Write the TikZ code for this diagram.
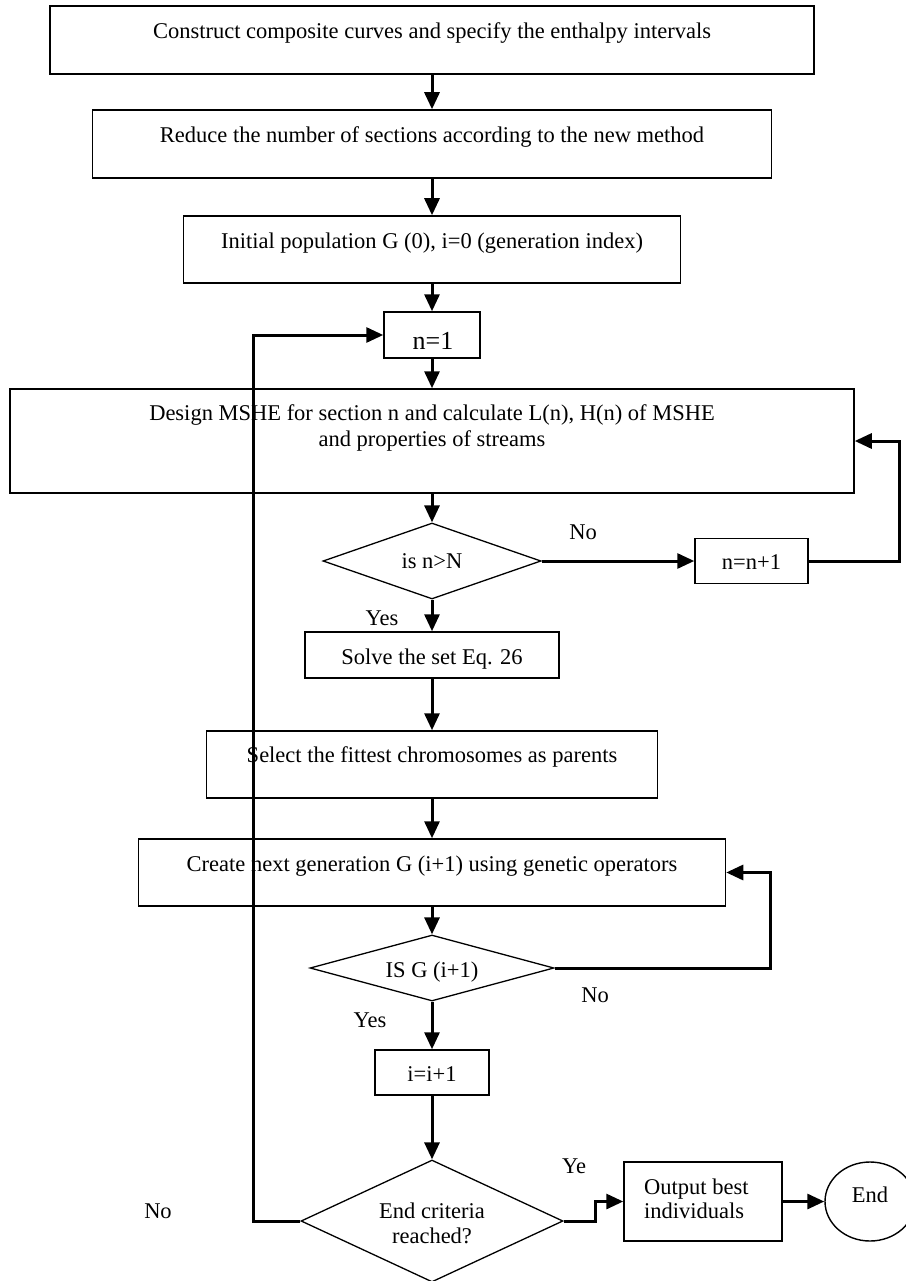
\documentclass[tikz,border=0pt]{standalone}
\usepackage{fontspec}
\setmainfont{Liberation Serif}
\usetikzlibrary{arrows.meta,shapes.geometric}
\begin{document}
\begin{tikzpicture}[x=1pt,y=-1pt,
  box/.style={draw, rectangle, line width=1.5pt, inner sep=0pt},
  dia/.style={draw, diamond, line width=1.3pt, inner sep=0pt},
  oval/.style={draw, ellipse, line width=1.4pt, inner sep=0pt},
  txt/.style={font=\fontsize{22.5}{26}\selectfont, inner sep=0pt, anchor=base},
  txtl/.style={txt, anchor=base west},
  conn/.style={line width=3pt, -{Triangle[length=17pt,width=15pt]}},
  wire/.style={line width=3pt}]
\path[fill=white] (0,0) rectangle (905,1281);
\useasboundingbox (0,0) rectangle (905,1281);
% boxes
\node[box, minimum width=764pt, minimum height=68pt] (b1) at (432,40) {};
\node[box, minimum width=679pt, minimum height=68pt] (b2) at (432,144) {};
\node[box, minimum width=497pt, minimum height=67pt] (b3) at (432,249.5) {};
\node[box, minimum width=96pt, minimum height=46pt] (n1) at (432,335) {};
\node[box, minimum width=844pt, minimum height=104pt] (b5) at (432,441) {};
\node[dia, minimum width=218pt, minimum height=76pt] (d1) at (432,561) {};
\node[box, minimum width=113pt, minimum height=45pt] (nn) at (751.5,561) {};
\node[box, minimum width=254pt, minimum height=46pt] (sol) at (432,655) {};
\node[box, minimum width=451pt, minimum height=67pt] (sel) at (432,764.5) {};
\node[box, minimum width=587pt, minimum height=67pt] (cre) at (432,872.5) {};
\node[dia, minimum width=244pt, minimum height=66pt] (d2) at (432,968) {};
\node[box, minimum width=114pt, minimum height=45pt] (inc) at (432,1072.5) {};
\node[dia, minimum width=262pt, minimum height=122pt] (d3) at (432,1221) {};
\node[box, minimum width=158pt, minimum height=79pt] (out) at (703,1201.5) {};
\node[oval, minimum width=90pt, minimum height=79pt] (endc) at (870,1201.5) {};
% texts
\node[txt] (t1) at (432,39) {Construct composite curves and specify the enthalpy intervals};
\node[txt] (t2) at (432,143) {Reduce the number of sections according to the new method};
\node[txt] (t3) at (432,248) {Initial population G (0), i=0 (generation index)};
\node[txt, font=\fontsize{26}{30}\selectfont] (tn1) at (433,349) {n=1};
\node[txt] (t5a) at (432,420) {Design MSHE for section n and calculate L(n), H(n) of MSHE};
\node[txt] (t5b) at (432,446) {and properties of streams};
\node[txt] (td1) at (432,568) {is n>N};
\node[txt] (tnn) at (751.5,569) {n=n+1};
\node[txt] (tsol) at (432,664.5) {Solve the set Eq. 26};
\node[txt] (tsel) at (432,762) {Select the fittest chromosomes as parents};
\node[txt] (tcre) at (432,871) {Create next generation G (i+1) using genetic operators};
\node[txt] (td2) at (432,977) {IS G (i+1)};
\node[txt] (tinc) at (432,1081.5) {i=i+1};
\node[txt] (td3a) at (432,1218) {End criteria};
\node[txt] (td3b) at (432,1243) {reached?};
\node[txtl] (tout1) at (644,1194) {Output best};
\node[txtl] (tout2) at (644,1218.5) {individuals};
\node[txt] (tend) at (870,1202) {End};
% labels
\node[txt] (lno1) at (583,539) {No};
\node[txt] (lyes1) at (382,625) {Yes};
\node[txt] (lno2) at (595,1002) {No};
\node[txt] (lyes2) at (370,1027.5) {Yes};
\node[txt] (lye3) at (574,1173) {Ye};
\node[txt] (lno3) at (158,1218.5) {No};
% connectors
\draw[conn] (b1.south) -- (b2.north);
\draw[conn] (b2.south) -- (b3.north);
\draw[conn] (b3.south) -- (n1.north);
\draw[conn] (n1.south) -- (b5.north);
\draw[conn] (b5.south) -- (d1.north);
\draw[conn] (d1.east) -- (nn.west);
\draw[conn] (nn.east) -- ++(91,0) |- (b5.east);
\draw[conn] (d1.south) -- (sol.north);
\draw[conn] (sol.south) -- (sel.north);
\draw[conn] (sel.south) -- (cre.north);
\draw[conn] (cre.south) -- (d2.north);
\draw[conn] (d2.east) -- ++(216,0) |- (cre.east);
\draw[conn] (d2.south) -- (inc.north);
\draw[conn] (inc.south) -- (d3.north);
\draw[conn] (d3.west) -- ++(-47,0) |- (n1.west);
\draw[conn] (d3.east) -- ++(32,0) |- (out.west);
\draw[conn] (out.east) -- (endc.west);
\end{tikzpicture}
\end{document}
